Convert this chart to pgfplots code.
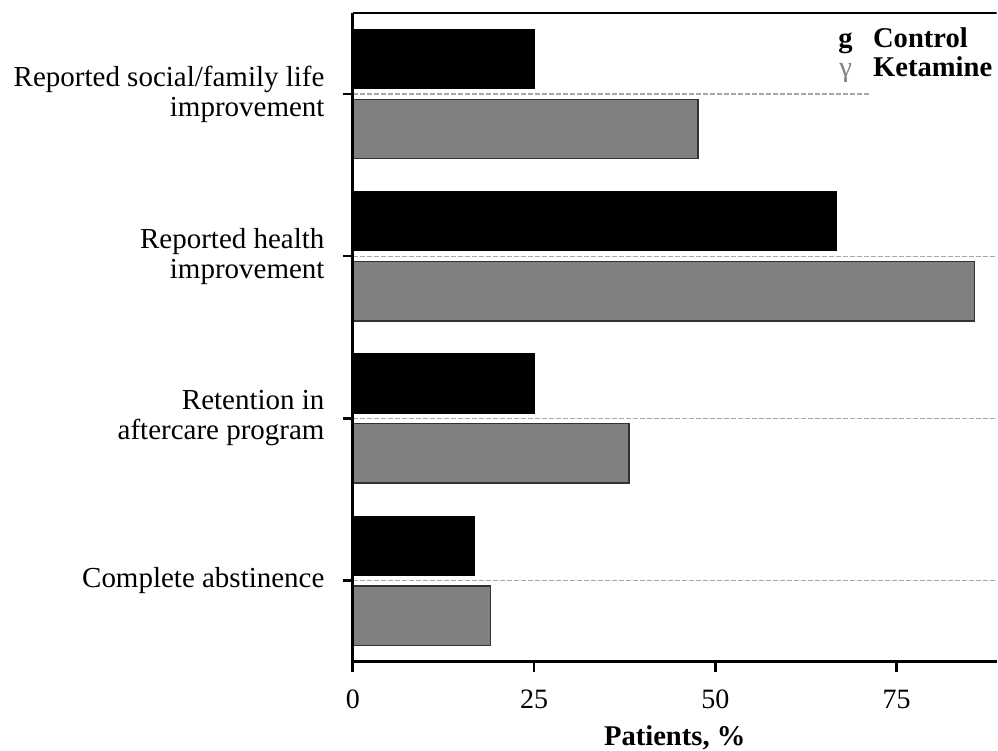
\documentclass[border=0pt]{standalone}
\usepackage{fontspec}
\setmainfont{Liberation Serif}
\usepackage{pgfplots}
\pgfplotsset{compat=1.18}
\definecolor{bargray}{HTML}{808080}
\definecolor{dashgray}{HTML}{A8A8A8}
\begin{document}
\begin{tikzpicture}
\begin{axis}[
  width=322pt, height=324.5pt, scale only axis,
  xmin=0, xmax=88.8, ymin=-0.5, ymax=3.5,
  axis lines*=left,
  axis on top,
  axis line style={line width=1.4pt},
  xtick={0,25,50,75},
  ytick={0,1,2,3},
  yticklabels={{Complete abstinence},{Retention in\\aftercare program},{Reported health\\improvement},{Reported social/family life\\improvement}},
  tick align=outside,
  major tick length=5pt,
  x tick style={line width=1.4pt, black},
  y tick style={line width=1.2pt, black},
  tick label style={font=\fontsize{14}{15}\selectfont, inner sep=0pt},
  yticklabel style={align=right, xshift=-9pt, font=\fontsize{14.5}{15}\selectfont},
  xticklabel style={yshift=-9pt},
  /pgf/number format/assume math mode=true,
  xlabel={Patients, \%},
  xlabel style={font=\fontsize{14.3}{16}\selectfont\bfseries, at={(rel axis cs:0.5,0)}, anchor=north, inner sep=0pt, yshift=-32pt},
  legend style={at={(rel axis cs:1,1)}, anchor=north east, xshift=-2pt, yshift=-6pt, draw=none, fill=none, inner sep=0pt, font=\fontsize{14.3}{15}\selectfont\bfseries, nodes={inner sep=0pt}, row sep=2pt, column sep=0pt},
  legend cell align=left,
  legend image code/.code={},
]
\addplot[forget plot, dashgray, dash pattern=on 2.5pt off 1pt, line width=0.6pt] coordinates {(0,0) (88.8,0)};
\addplot[forget plot, dashgray, dash pattern=on 2.5pt off 1pt, line width=0.6pt] coordinates {(0,1) (88.8,1)};
\addplot[forget plot, dashgray, dash pattern=on 2.5pt off 1pt, line width=0.6pt] coordinates {(0,2) (88.8,2)};
\addplot[forget plot, dashgray, dash pattern=on 2.5pt off 1pt, line width=0.6pt] coordinates {(0,3) (71.3,3)};
\addplot[xbar, bar width=0.365, bar shift=0.216, fill=black, draw=black, line width=0.4pt] coordinates {(16.7,0) (25,1) (66.7,2) (25,3)};
\addlegendentry{\rule[-4pt]{0pt}{15pt}\makebox[7.5pt][c]{g}\hspace{10pt}Control}
\addplot[xbar, bar width=0.365, bar shift=-0.216, fill=bargray, draw=black!80, line width=0.6pt] coordinates {(19.0,0) (38.1,1) (85.7,2) (47.6,3)};
\addlegendentry{\rule[-4pt]{0pt}{15pt}\makebox[7.5pt][c]{\mdseries\textcolor{bargray}{γ}}\hspace{10pt}Ketamine}
\draw[line width=1.2pt] (rel axis cs:0,1) -- (rel axis cs:1,1);
\end{axis}
\pgfresetboundingbox
\path[use as bounding box] (current axis.south west) ++(-176.5pt,-44.5pt) rectangle ++(499.2pt,375.5pt);
\end{tikzpicture}
\end{document}
